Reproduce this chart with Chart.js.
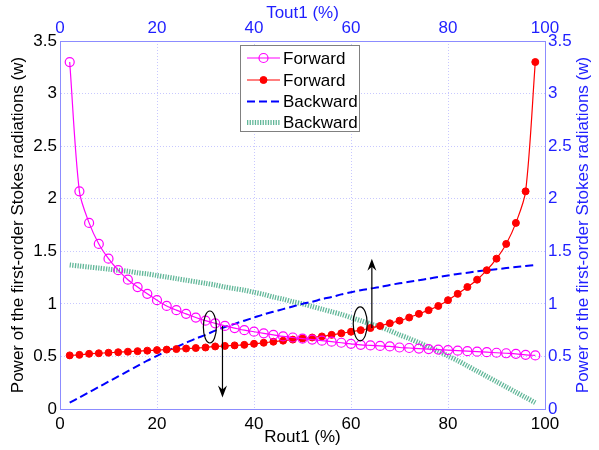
<!DOCTYPE html>
<html>
<head>
<meta charset="utf-8">
<script src="https://cdn.jsdelivr.net/npm/chart.js@4.4.1/dist/chart.umd.min.js"></script>
<style>
  body { margin: 0; background: #fff; }
</style>
</head>
<body>
<canvas id="stokesChart" width="599" height="450"></canvas>
<script>
// Rout1 (%) sample positions
const rout = [2, 4, 6, 8, 10, 12, 14, 16, 18, 20, 22, 24, 26, 28, 30, 32, 34, 36, 38, 40,
  42, 44, 46, 48, 50, 52, 54, 56, 58, 60, 62, 64, 66, 68, 70, 72, 74, 76, 78, 80,
  82, 84, 86, 88, 90, 92, 94, 96, 98];

// Forward, open magenta circles
const forwardOpen = [3.30, 2.07, 1.77, 1.57, 1.43, 1.32, 1.23, 1.16, 1.095, 1.035,
  0.98, 0.94, 0.905, 0.87, 0.84, 0.815, 0.79, 0.77, 0.75, 0.735,
  0.72, 0.705, 0.69, 0.68, 0.67, 0.66, 0.65, 0.64, 0.63, 0.62,
  0.61, 0.605, 0.60, 0.595, 0.585, 0.58, 0.575, 0.57, 0.565, 0.56,
  0.555, 0.55, 0.545, 0.54, 0.535, 0.53, 0.525, 0.515, 0.51];

// Forward, filled red dots
const forwardDot = [0.51, 0.515, 0.525, 0.53, 0.535, 0.54, 0.545, 0.55, 0.555, 0.56,
  0.565, 0.57, 0.575, 0.58, 0.585, 0.595, 0.60, 0.605, 0.61, 0.62,
  0.63, 0.64, 0.65, 0.66, 0.67, 0.68, 0.69, 0.705, 0.72, 0.735,
  0.75, 0.77, 0.79, 0.815, 0.84, 0.87, 0.905, 0.94, 0.98, 1.035,
  1.095, 1.16, 1.23, 1.32, 1.43, 1.57, 1.77, 2.07, 3.30];

// Backward, blue dashed
const backwardDash = [0.06, 0.11, 0.16, 0.21, 0.26, 0.31, 0.36, 0.41, 0.46, 0.505,
  0.55, 0.59, 0.63, 0.67, 0.705, 0.745, 0.78, 0.81, 0.84, 0.87,
  0.90, 0.925, 0.95, 0.975, 1.00, 1.02, 1.045, 1.065, 1.09, 1.11,
  1.13, 1.145, 1.16, 1.18, 1.195, 1.21, 1.225, 1.24, 1.255, 1.27,
  1.285, 1.295, 1.31, 1.32, 1.33, 1.34, 1.35, 1.36, 1.37];

// Backward, green hatched
const backwardHatch = [1.37, 1.36, 1.35, 1.34, 1.33, 1.32, 1.31, 1.295, 1.285, 1.27,
  1.255, 1.24, 1.225, 1.21, 1.195, 1.18, 1.16, 1.145, 1.13, 1.11,
  1.09, 1.065, 1.045, 1.02, 1.00, 0.975, 0.95, 0.925, 0.90, 0.87,
  0.84, 0.81, 0.78, 0.745, 0.705, 0.67, 0.63, 0.59, 0.55, 0.505,
  0.46, 0.41, 0.36, 0.31, 0.26, 0.21, 0.16, 0.11, 0.06];

const legendLabels = ['Forward', 'Forward', 'Backward', 'Backward'];

// ellipse + arrow callouts, in data units (Rout1 %, W)
const callouts = [
  { cx: 30.9, cy: 0.78, rx: 6.5, ry: 16, ax: 33.5, from: 0.79, to: 0.11 },
  { cx: 61.9, cy: 0.81, rx: 7, ry: 17, ax: 64.3, from: 0.77, to: 1.43 }
];

const FONT = '"Liberation Sans", Arial, sans-serif';
const BLUE = '#1f1fff';
const toXY = arr => rout.map((x, i) => ({ x, y: arr[i] }));
const plainNum = v => String(Math.round(v * 10) / 10);

const overlay = {
  id: 'overlay',
  afterDatasetsDraw(chart) {
    const { ctx, scales } = chart;
    const sx = scales.x, sy = scales.y;

    // callouts
    ctx.save();
    ctx.strokeStyle = '#000';
    ctx.fillStyle = '#000';
    ctx.lineWidth = 1.2;
    callouts.forEach(c => {
      ctx.beginPath();
      ctx.ellipse(sx.getPixelForValue(c.cx), sy.getPixelForValue(c.cy), c.rx, c.ry, 0, 0, Math.PI * 2);
      ctx.stroke();
      const x = sx.getPixelForValue(c.ax);
      const y0 = sy.getPixelForValue(c.from);
      const y1 = sy.getPixelForValue(c.to);
      const dir = y1 > y0 ? 1 : -1;
      ctx.beginPath();
      ctx.moveTo(x, y0);
      ctx.lineTo(x, y1 - dir * 6);
      ctx.stroke();
      ctx.beginPath();
      ctx.moveTo(x, y1);
      ctx.lineTo(x - 4.5, y1 - dir * 12);
      ctx.lineTo(x, y1 - dir * 8);
      ctx.lineTo(x + 4.5, y1 - dir * 12);
      ctx.closePath();
      ctx.fill();
    });
    ctx.restore();
  },
  afterDraw(chart) {
    const { ctx, chartArea } = chart;

    // right axis title, reading bottom to top like the left one
    ctx.save();
    ctx.translate(583, (chartArea.top + chartArea.bottom) / 2);
    ctx.rotate(-Math.PI / 2);
    ctx.font = '17px ' + FONT;
    ctx.fillStyle = BLUE;
    ctx.textAlign = 'center';
    ctx.textBaseline = 'middle';
    ctx.fillText('Power of the first-order Stokes radiations (w)', 0, 0);
    ctx.restore();

    // legend box
    const bx = 240, by = 45, bw = 119, bh = 86;
    ctx.save();
    ctx.fillStyle = '#fff';
    ctx.fillRect(bx, by, bw, bh);
    ctx.strokeStyle = '#808080';
    ctx.lineWidth = 1;
    ctx.strokeRect(bx + 0.5, by + 0.5, bw, bh);
    const rows = [58, 80, 101.5, 122.5];
    chart.data.datasets.forEach((ds, i) => {
      const y = rows[i];
      ctx.save();
      ctx.strokeStyle = ds.borderColor;
      ctx.lineWidth = ds.borderWidth;
      ctx.setLineDash(ds.borderDash || []);
      ctx.beginPath();
      ctx.moveTo(247, y);
      ctx.lineTo(280, y);
      ctx.stroke();
      ctx.setLineDash([]);
      if (ds.pointRadius) {
        ctx.beginPath();
        ctx.arc(263.5, y, ds.pointRadius, 0, Math.PI * 2);
        ctx.fillStyle = ds.pointBackgroundColor;
        ctx.fill();
        ctx.lineWidth = ds.pointBorderWidth;
        ctx.strokeStyle = ds.pointBorderColor;
        ctx.stroke();
      }
      ctx.restore();
      ctx.font = '17px ' + FONT;
      ctx.fillStyle = '#000';
      ctx.textAlign = 'left';
      ctx.textBaseline = 'middle';
      ctx.fillText(legendLabels[i], 283, y + 1);
    });
    ctx.restore();
  }
};

const gridStyle = { color: '#c8c8ff', lineWidth: 1, drawTicks: false };
const borderStyle = { color: '#8c8cff', width: 1, dash: [1, 2] };

new Chart(document.getElementById('stokesChart'), {
  type: 'line',
  data: {
    datasets: [
      {
        label: legendLabels[0],
        data: toXY(forwardOpen),
        borderColor: '#ff00ff',
        borderWidth: 1.2,
        pointRadius: 4.5,
        pointBorderWidth: 1.2,
        pointBorderColor: '#ff00ff',
        pointBackgroundColor: 'rgba(255,255,255,0)',
        tension: 0.3
      },
      {
        label: legendLabels[1],
        data: toXY(forwardDot),
        borderColor: '#ff0000',
        borderWidth: 1.2,
        pointRadius: 3.5,
        pointBorderWidth: 1,
        pointBorderColor: '#ff0000',
        pointBackgroundColor: '#ff0000',
        tension: 0.3
      },
      {
        label: legendLabels[2],
        data: toXY(backwardDash),
        borderColor: '#0000ff',
        borderWidth: 2,
        borderDash: [8, 4],
        pointRadius: 0,
        tension: 0.3
      },
      {
        label: legendLabels[3],
        data: toXY(backwardHatch),
        borderColor: 'rgba(70,170,135,0.85)',
        borderWidth: 5,
        borderDash: [1.3, 1.3],
        pointRadius: 0,
        tension: 0.3
      }
    ]
  },
  options: {
    responsive: false,
    animation: false,
    layout: { padding: 0 },
    plugins: {
      legend: { display: false },
      tooltip: { enabled: false }
    },
    scales: {
      x: {
        type: 'linear', position: 'bottom', min: 0, max: 100,
        afterFit: s => { s.height = 41; },
        grid: gridStyle, border: borderStyle,
        ticks: { stepSize: 20, padding: 5, color: '#000', font: { family: FONT, size: 17 }, maxRotation: 0, callback: plainNum },
        title: { display: true, text: 'Rout1 (%)', color: '#000', padding: { top: 0, bottom: 2 }, font: { family: FONT, size: 17 } }
      },
      x2: {
        type: 'linear', position: 'top', min: 0, max: 100,
        afterFit: s => { s.height = 41; },
        grid: { display: false, drawTicks: false }, border: borderStyle,
        ticks: { stepSize: 20, padding: 2, color: BLUE, font: { family: FONT, size: 17 }, maxRotation: 0, callback: plainNum },
        title: { display: true, text: 'Tout1 (%)', color: BLUE, padding: { top: 3, bottom: 0 }, font: { family: FONT, size: 17 } }
      },
      y: {
        type: 'linear', position: 'left', min: 0, max: 3.5,
        afterFit: s => { s.width = 60; },
        grid: gridStyle, border: borderStyle,
        ticks: { stepSize: 0.5, padding: 3, color: '#000', font: { family: FONT, size: 17 }, callback: plainNum },
        title: { display: true, text: 'Power of the first-order Stokes radiations (w)', color: '#000', padding: { top: 8, bottom: 0 }, font: { family: FONT, size: 17 } }
      },
      y2: {
        type: 'linear', position: 'right', min: 0, max: 3.5,
        afterFit: s => { s.width = 54; },
        grid: { display: false, drawTicks: false }, border: borderStyle,
        ticks: { stepSize: 0.5, padding: 3, color: BLUE, font: { family: FONT, size: 17 }, callback: plainNum }
      }
    }
  },
  plugins: [overlay]
});
</script>
</body>
</html>
